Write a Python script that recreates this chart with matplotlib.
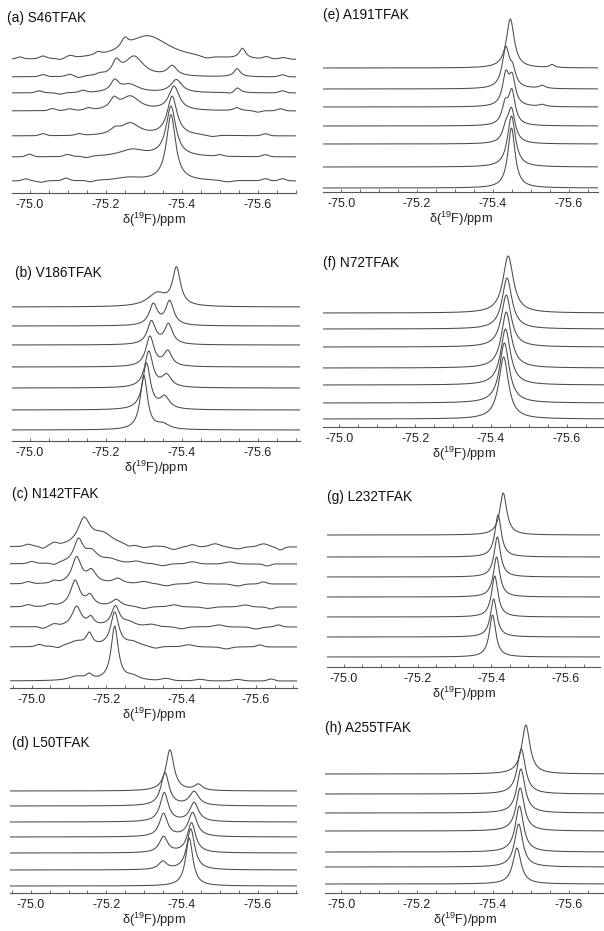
import numpy as np
import matplotlib
matplotlib.use("Agg")
import matplotlib.pyplot as plt
from matplotlib.ticker import MultipleLocator, FixedLocator

plt.rcParams['font.family'] = ['Liberation Sans', 'DejaVu Sans']
plt.rcParams['mathtext.default'] = 'regular'
plt.rcParams['axes.unicode_minus'] = False

# ---------------- data (ppm, height, FWHM) per trace, bottom -> top ----------------
titles = ["(a) S46TFAK", "(b) V186TFAK", "(c) N142TFAK", "(d) L50TFAK",
          "(e) A191TFAK", "(f) N72TFAK", "(g) L232TFAK", "(h) A255TFAK"]

a_offsets = [12, 36, 57, 82, 100, 116, 133]
a_peaks = [
    [(-75.372, 66, 0.029), (-75.26, 3, 0.08)],
    [(-75.372, 50, 0.031), (-75.27, 7, 0.08)],
    [(-75.375, 39, 0.031), (-75.265, 12, 0.06), (-75.225, 5, 0.03)],
    [(-75.380, 24, 0.033), (-75.265, 14, 0.06), (-75.222, 10, 0.025), (-75.545, 3, 0.02)],
    [(-75.386, 13, 0.035), (-75.263, 8, 0.06), (-75.224, 11, 0.025), (-75.546, 5, 0.02)],
    [(-75.375, 10, 0.030), (-75.275, 20, 0.06), (-75.228, 13, 0.025), (-75.546, 8, 0.02)],
    [(-75.250, 9, 0.022), (-75.31, 24, 0.14), (-75.56, 10, 0.02), (-75.18, 3, 0.02)],
]
# small baseline wiggles (ppm, height, FWHM)
a_wiggles = [
    [(-74.99, 2, 0.02), (-75.03, -1.5, 0.02), (-75.096, 2.5, 0.02), (-75.16, -1.5, 0.02), (-75.62, 2, 0.02), (-75.665, 2, 0.02), (-75.52, -1.5, 0.03)],
    [(-75.00, 2.5, 0.02), (-75.10, 2, 0.02), (-75.15, -1.5, 0.02), (-75.50, 1.5, 0.02), (-75.62, 2, 0.02)],
    [(-75.035, 2, 0.02), (-75.13, 1.5, 0.02), (-75.48, -1.5, 0.03), (-75.62, 2, 0.02)],
    [(-75.06, 2, 0.02), (-75.105, 1.5, 0.02), (-75.155, 2, 0.02), (-75.66, 2, 0.02), (-75.60, -1.5, 0.02)],
    [(-75.025, 2, 0.02), (-75.08, -1.5, 0.02), (-75.14, 2, 0.02), (-75.53, -1.5, 0.02), (-75.665, 2, 0.02)],
    [(-75.035, 2, 0.02), (-75.105, 2, 0.02), (-75.13, -1.5, 0.02), (-75.185, 1.5, 0.02), (-75.665, 2, 0.02)],
    [(-74.974, 2, 0.02), (-75.035, 2.5, 0.02), (-75.08, -1.5, 0.02), (-75.107, 2, 0.02), (-75.465, -2, 0.03), (-75.623, 2, 0.02), (-75.667, 1.5, 0.02)],
]

b_offsets = [11, 31, 53, 74, 96, 115, 134]
b_peaks = [
    [(-75.300, 54, 0.023), (-75.350, 5, 0.04)],
    [(-75.307, 46, 0.025), (-75.355, 12, 0.03)],
    [(-75.313, 36, 0.026), (-75.360, 12, 0.03)],
    [(-75.316, 30, 0.026), (-75.363, 15, 0.026)],
    [(-75.320, 23, 0.026), (-75.365, 20, 0.026)],
    [(-75.325, 21, 0.026), (-75.368, 24, 0.026)],
    [(-75.386, 37, 0.025), (-75.335, 13, 0.06)],
]

c_offsets = [7, 41, 61, 81, 104, 124, 141]
c_peaks = [
    [(-75.222, 54, 0.023), (-75.154, 5, 0.02), (-75.12, 4, 0.05), (-75.27, 4, 0.04)],
    [(-75.222, 34, 0.026), (-75.154, 12, 0.02), (-75.12, 5, 0.05), (-75.27, 4, 0.04)],
    [(-75.120, 20, 0.030), (-75.158, 8, 0.02), (-75.224, 20, 0.026), (-75.26, 4, 0.04)],
    [(-75.116, 26, 0.030), (-75.156, 10, 0.025), (-75.226, 7, 0.03)],
    [(-75.120, 26, 0.030), (-75.160, 12, 0.03), (-75.230, 5, 0.03)],
    [(-75.125, 23, 0.030), (-75.160, 11, 0.04), (-75.210, 4, 0.05)],
    [(-75.140, 26, 0.040), (-75.190, 12, 0.07)],
]
c_wiggles = [
    [(-75.36, 2, 0.03), (-75.45, 1.5, 0.03), (-75.55, 1.5, 0.03), (-75.64, 2, 0.02)],
    [(-75.02, 2, 0.02), (-75.07, -2, 0.02), (-75.33, -2, 0.03), (-75.42, 2, 0.03), (-75.52, -2, 0.03), (-75.61, 2, 0.02)],
    [(-75.03, -2, 0.02), (-75.06, 2, 0.02), (-75.32, 2, 0.03), (-75.40, -2, 0.03), (-75.50, 2, 0.03), (-75.60, -2, 0.03), (-75.66, 2, 0.02)],
    [(-74.99, 2, 0.02), (-75.05, 2, 0.02), (-75.30, -2, 0.03), (-75.38, 2, 0.03), (-75.47, -1.5, 0.03), (-75.57, 2, 0.03), (-75.64, -2, 0.02)],
    [(-74.99, 2, 0.02), (-75.06, 2, 0.02), (-75.30, 2, 0.03), (-75.36, -2, 0.03), (-75.44, 2, 0.03), (-75.55, -2, 0.03), (-75.62, 2, 0.02)],
    [(-75.00, 2, 0.02), (-75.06, -2, 0.02), (-75.28, 2, 0.03), (-75.35, -2, 0.03), (-75.43, 2, 0.03), (-75.53, 2, 0.03), (-75.63, -2, 0.02)],
    [(-74.99, 2, 0.02), (-75.03, -2.5, 0.02), (-75.06, 2.5, 0.02), (-75.26, -2, 0.02), (-75.30, -2, 0.03), (-75.38, -3, 0.03), (-75.43, 2, 0.02), (-75.49, 3, 0.03), (-75.55, -2, 0.03), (-75.62, 3, 0.03), (-75.665, -3, 0.02)],
]

d_offsets = [7, 23, 40, 56, 71, 87, 102]
d_peaks = [
    [(-75.419, 48, 0.023)],
    [(-75.423, 41, 0.025), (-75.349, 8, 0.026)],
    [(-75.425, 30, 0.026), (-75.351, 16, 0.026)],
    [(-75.428, 24, 0.028), (-75.351, 23, 0.026)],
    [(-75.432, 19, 0.028), (-75.353, 29, 0.026)],
    [(-75.432, 14, 0.030), (-75.355, 33, 0.026)],
    [(-75.368, 41, 0.026), (-75.443, 6, 0.025)],
]

e_offsets = [4, 25, 48, 66, 85, 103, 124]
e_peaks = [
    [(-75.449, 60, 0.023)],
    [(-75.449, 51, 0.025)],
    [(-75.449, 33, 0.023), (-75.434, 12, 0.02)],
    [(-75.450, 33, 0.021), (-75.432, 19, 0.02)],
    [(-75.434, 30, 0.021), (-75.451, 26, 0.02), (-75.53, 2, 0.02)],
    [(-75.434, 39, 0.023), (-75.452, 15, 0.02), (-75.53, 3, 0.02)],
    [(-75.446, 49, 0.025), (-75.556, 3, 0.015)],
]

f_offsets = [8, 24, 42, 59, 80, 98, 114]
f_peaks = [
    [(-75.433, 62, 0.031)],
    [(-75.435, 60, 0.031)],
    [(-75.438, 56, 0.031)],
    [(-75.440, 56, 0.031)],
    [(-75.440, 52, 0.031)],
    [(-75.442, 51, 0.031)],
    [(-75.445, 57, 0.033)],
]

g_offsets = [10, 30, 50, 70, 90, 110, 132]
g_peaks = [
    [(-75.403, 42, 0.021)],
    [(-75.406, 38, 0.021)],
    [(-75.409, 41, 0.021)],
    [(-75.414, 40, 0.021)],
    [(-75.416, 40, 0.021)],
    [(-75.418, 42, 0.021)],
    [(-75.432, 42, 0.023)],
]

h_offsets = [9, 26, 41, 62, 80, 99, 119]
h_peaks = [
    [(-75.4635, 36, 0.026)],
    [(-75.468, 43, 0.026)],
    [(-75.470, 46, 0.026)],
    [(-75.472, 43, 0.026)],
    [(-75.474, 44, 0.026)],
    [(-75.475, 45, 0.026)],
    [(-75.487, 49, 0.026)],
]

no_wiggles = [[] for _ in range(7)]
all_offsets = [a_offsets, b_offsets, c_offsets, d_offsets, e_offsets, f_offsets, g_offsets, h_offsets]
all_peaks = [a_peaks, b_peaks, c_peaks, d_peaks, e_peaks, f_peaks, g_peaks, h_peaks]
all_wiggles = [a_wiggles, no_wiggles, c_wiggles, no_wiggles, no_wiggles, no_wiggles, no_wiggles, no_wiggles]
tick_values = [-75.0, -75.2, -75.4, -75.6]
tick_labels = ["-75.0", "-75.2", "-75.4", "-75.6"]

# ---------------- layout (pixels) ----------------
W, H = 604, 931
# left px, right px, axis-line y px, title x px, title y px, px of -75.0, px of -75.6
layout = [
    (12, 296, 193, 7, 18, 29.5, 257.7),
    (12, 300, 441, 15, 273, 30.0, 257.7),
    (10, 297, 688, 12, 494, 31.7, 256.0),
    (10, 297, 893, 12, 743, 30.7, 257.7),
    (323, 598, 192, 323, 15, 341.3, 568.7),
    (323, 604, 427, 323, 263, 339.3, 567.0),
    (327, 600, 667, 327, 497, 343.7, 565.3),
    (325, 604, 893, 325, 728, 341.3, 568.7),
]
AX_H = 175

fig = plt.figure(figsize=(W / 100, H / 100), dpi=100)
fig.patch.set_facecolor("white")

def lorentz(x, x0, h, w):
    return h / (1.0 + ((x - x0) / (w / 2.0)) ** 2)

def gauss(x, x0, h, w):
    return h * np.exp(-4 * np.log(2) * ((x - x0) / w) ** 2)

for k in range(8):
    L, R, yb, tx, ty, p0, p6 = layout[k]
    ax = fig.add_axes([L / W, 1 - yb / H, (R - L) / W, AX_H / H])
    s = (p6 - p0) / 0.6
    x_left = -75.0 + (p0 - L) / s
    x_right = -75.6 - (R - p6) / s
    x = np.linspace(x_left, x_right, 1500)
    for off, peaks, wig in zip(all_offsets[k], all_peaks[k], all_wiggles[k]):
        y = np.full_like(x, float(off))
        for (x0, hh, ww) in peaks:
            y += lorentz(x, x0, hh, ww)
        for (x0, hh, ww) in wig:
            y += gauss(x, x0, hh, ww)
        ax.plot(x, y, color="#4a4a4a", lw=0.75)
    ax.set_xlim(x_left, x_right)
    ax.set_ylim(0, AX_H)
    for sp in ("left", "right", "top"):
        ax.spines[sp].set_visible(False)
    ax.spines["bottom"].set_color("#555555")
    ax.spines["bottom"].set_linewidth(0.8)
    ax.set_yticks([])
    ax.xaxis.set_major_locator(FixedLocator(tick_values))
    ax.set_xticklabels(tick_labels)
    ax.xaxis.set_minor_locator(MultipleLocator(0.05))
    ax.tick_params(axis="x", which="both", direction="in", length=2.5, width=0.6,
                   color="#555555", labelsize=9, pad=4, labelcolor="#222222")
    ax.set_xlabel(r"δ($^{19}$F)/ppm", fontsize=9.3, labelpad=0.5, color="#222222")
    ax.patch.set_alpha(0)
    fig.text(tx / W, 1 - ty / H, titles[k], fontsize=9.8, ha="left", va="center", color="#111111")

fig.savefig("out.png", dpi=100, facecolor="white")
